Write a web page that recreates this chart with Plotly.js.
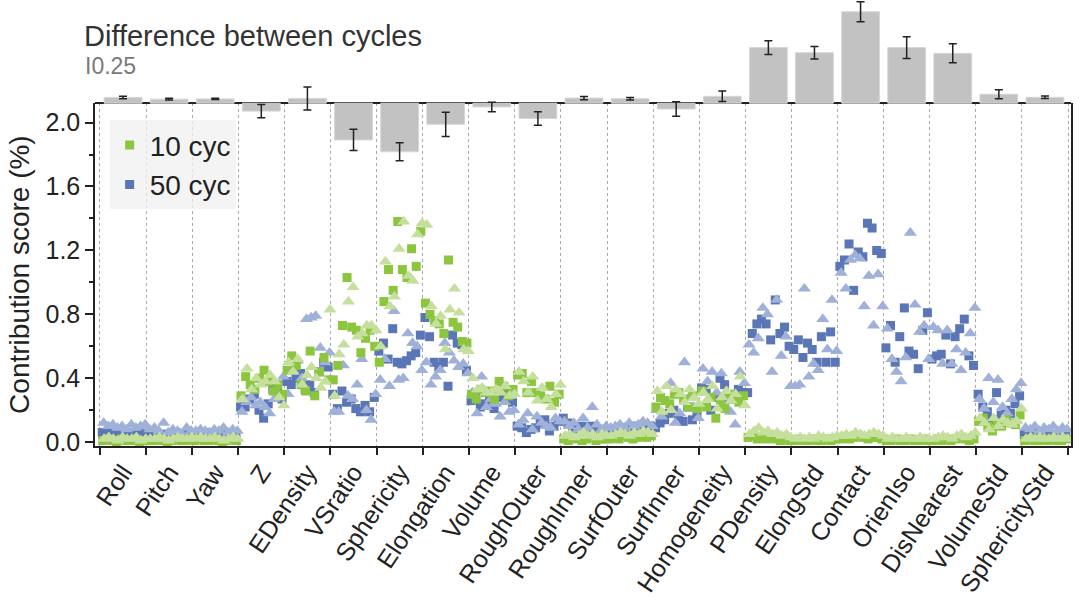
<!DOCTYPE html>
<html>
<head>
<meta charset="utf-8">
<script src="https://cdn.plot.ly/plotly-3.0.1.min.js"></script>
<style>
  html, body { margin: 0; padding: 0; background: #ffffff; }
  #scorePlot { width: 1080px; height: 600px; }
</style>
</head>
<body>
<div id="scorePlot"></div>
<script>
// feature names (x categories)
let features = [
  "Roll", "Pitch", "Yaw", "Z", "EDensity", "VSratio", "Sphericity",
  "Elongation", "Volume", "RoughOuter", "RoughInner", "SurfOuter",
  "SurfInner", "Homogeneity", "PDensity", "ElongStd", "Contact",
  "OrienIso", "DisNearest", "VolumeStd", "SphericityStd",
];

// top bars: difference between cycles (50 - 10) and its error
let diffMean = [
  0.09, 0.063, 0.067, -0.124, 0.075, -0.575, -0.76, -0.33, -0.059, -0.24,
  0.08, 0.07, -0.091, 0.108, 0.87, 0.79, 1.43, 0.87, 0.78, 0.14, 0.092,
];
let diffErr = [
  0.02, 0.015, 0.01, 0.105, 0.18, 0.167, 0.14, 0.19, 0.075, 0.105,
  0.025, 0.02, 0.113, 0.083, 0.108, 0.097, 0.156, 0.17, 0.148, 0.072, 0.02,
];

// contribution score (%) per feature, samples left to right
let score10sq = [
  [0.01, 0.02, 0.01, 0.00, 0.02, 0.01, 0.01, 0.02, 0.00, 0.01],
  [0.01, 0.01, 0.02, 0.01, 0.00, 0.01, 0.02, 0.01, 0.01, 0.02],
  [0.01, 0.02, 0.01, 0.01, 0.02, 0.01, 0.00, 0.01, 0.02, 0.01],
  [0.29, 0.41, 0.36, 0.33, 0.40, 0.45, 0.38, 0.32, 0.36, 0.30],
  [0.45, 0.54, 0.48, 0.36, 0.32, 0.57, 0.29, 0.44, 0.53, 0.39],
  [0.39, 0.48, 0.73, 1.03, 0.72, 0.70, 0.56, 0.65, 0.70, 0.60],
  [0.50, 0.88, 1.08, 0.95, 1.38, 1.08, 1.03, 1.21, 1.10, 1.32],
  [0.87, 0.80, 0.76, 0.74, 0.68, 1.14, 0.75, 0.72, 0.63, 0.62],
  [0.30, 0.27, 0.33, 0.31, 0.32, 0.27, 0.38, 0.35, 0.29, 0.33],
  [0.42, 0.43, 0.31, 0.38, 0.31, 0.29, 0.27, 0.35, 0.25, 0.30],
  [0.02, 0.01, 0.03, 0.02, 0.01, 0.02, 0.03, 0.01, 0.02, 0.02],
  [0.02, 0.03, 0.02, 0.04, 0.03, 0.02, 0.03, 0.04, 0.03, 0.04],
  [0.22, 0.28, 0.26, 0.24, 0.30, 0.31, 0.27, 0.22, 0.29, 0.21],
  [0.32, 0.22, 0.28, 0.15, 0.24, 0.21, 0.30, 0.27, 0.25, 0.29],
  [0.03, 0.04, 0.02, 0.03, 0.02, 0.03, 0.02, 0.01, 0.02, 0.01],
  [0.01, 0.02, 0.01, 0.01, 0.02, 0.01, 0.01, 0.02, 0.01, 0.02],
  [0.02, 0.03, 0.02, 0.03, 0.04, 0.03, 0.02, 0.03, 0.03, 0.02],
  [0.01, 0.01, 0.02, 0.01, 0.01, 0.02, 0.01, 0.01, 0.02, 0.01],
  [0.01, 0.02, 0.01, 0.02, 0.01, 0.02, 0.03, 0.02, 0.01, 0.02],
  [0.13, 0.15, 0.10, 0.07, 0.12, 0.10, 0.14, 0.12, 0.11, 0.17],
  [0.01, 0.02, 0.01, 0.01, 0.02, 0.01, 0.02, 0.01, 0.01, 0.02],
];
let score10tri = [
  [0.02, 0.03, 0.02, 0.01, 0.03, 0.02, 0.02, 0.03, 0.01, 0.02],
  [0.02, 0.02, 0.03, 0.02, 0.01, 0.02, 0.03, 0.02, 0.02, 0.03],
  [0.02, 0.03, 0.02, 0.02, 0.03, 0.02, 0.01, 0.02, 0.03, 0.02],
  [0.27, 0.46, 0.33, 0.40, 0.36, 0.38, 0.42, 0.38, 0.28, 0.23],
  [0.50, 0.44, 0.52, 0.36, 0.42, 0.47, 0.40, 0.34, 0.38, 0.83],
  [0.29, 0.55, 0.61, 0.88, 0.97, 0.66, 0.68, 0.73, 0.73, 0.70],
  [0.60, 1.13, 0.85, 0.91, 1.21, 1.38, 1.04, 1.01, 1.30, 1.37],
  [1.36, 0.85, 0.74, 0.79, 0.58, 0.83, 0.96, 0.81, 0.58, 0.57],
  [0.40, 0.33, 0.34, 0.31, 0.31, 0.33, 0.31, 0.35, 0.29, 0.30],
  [0.44, 0.38, 0.31, 0.41, 0.26, 0.34, 0.27, 0.22, 0.30, 0.36],
  [0.04, 0.05, 0.03, 0.04, 0.06, 0.04, 0.05, 0.03, 0.05, 0.04],
  [0.04, 0.05, 0.06, 0.05, 0.04, 0.06, 0.05, 0.07, 0.06, 0.05],
  [0.32, 0.19, 0.35, 0.20, 0.33, 0.30, 0.25, 0.33, 0.28, 0.24],
  [0.31, 0.27, 0.35, 0.21, 0.28, 0.32, 0.26, 0.30, 0.41, 0.23],
  [0.05, 0.07, 0.09, 0.06, 0.07, 0.05, 0.06, 0.04, 0.05, 0.03],
  [0.02, 0.03, 0.02, 0.03, 0.02, 0.04, 0.03, 0.02, 0.03, 0.04],
  [0.04, 0.05, 0.04, 0.06, 0.05, 0.04, 0.05, 0.06, 0.05, 0.04],
  [0.02, 0.03, 0.02, 0.02, 0.03, 0.02, 0.02, 0.03, 0.02, 0.02],
  [0.02, 0.03, 0.04, 0.03, 0.02, 0.04, 0.05, 0.03, 0.04, 0.06],
  [0.15, 0.12, 0.08, 0.15, 0.10, 0.14, 0.12, 0.11, 0.13, 0.21],
  [0.02, 0.03, 0.02, 0.03, 0.02, 0.02, 0.03, 0.02, 0.03, 0.02],
];
let score50sq = [
  [0.06, 0.05, 0.07, 0.04, 0.06, 0.05, 0.06, 0.04, 0.07, 0.05],
  [0.05, 0.06, 0.04, 0.05, 0.03, 0.05, 0.06, 0.04, 0.05, 0.04],
  [0.04, 0.05, 0.04, 0.06, 0.05, 0.04, 0.05, 0.06, 0.04, 0.05],
  [0.22, 0.22, 0.27, 0.30, 0.20, 0.15, 0.24, 0.33, 0.35, 0.27],
  [0.38, 0.36, 0.40, 0.43, 0.33, 0.36, 0.31, 0.44, 0.50, 0.47],
  [0.30, 0.21, 0.32, 0.25, 0.27, 0.21, 0.19, 0.23, 0.19, 0.28],
  [0.57, 0.62, 0.52, 0.71, 0.50, 0.49, 0.51, 0.54, 0.56, 0.67],
  [0.78, 0.66, 0.50, 0.47, 0.50, 0.35, 0.67, 0.62, 0.61, 0.45],
  [0.26, 0.29, 0.22, 0.24, 0.27, 0.21, 0.31, 0.28, 0.32, 0.25],
  [0.10, 0.09, 0.06, 0.08, 0.09, 0.12, 0.14, 0.07, 0.10, 0.13],
  [0.15, 0.12, 0.09, 0.08, 0.10, 0.07, 0.10, 0.09, 0.06, 0.08],
  [0.07, 0.08, 0.06, 0.09, 0.07, 0.08, 0.10, 0.09, 0.08, 0.10],
  [0.09, 0.12, 0.14, 0.18, 0.20, 0.16, 0.13, 0.22, 0.14, 0.17],
  [0.34, 0.33, 0.20, 0.28, 0.40, 0.36, 0.27, 0.29, 0.33, 0.31],
  [0.31, 0.68, 0.74, 0.77, 0.74, 0.64, 0.89, 0.68, 0.72, 0.60],
  [0.58, 0.64, 0.53, 0.62, 0.58, 0.50, 0.66, 0.50, 0.69, 0.50],
  [1.10, 1.14, 1.24, 0.95, 1.19, 1.16, 1.37, 1.34, 1.20, 1.18],
  [0.59, 0.73, 0.50, 0.66, 0.84, 0.57, 0.55, 0.46, 0.70, 0.81],
  [0.52, 0.54, 0.55, 0.67, 0.49, 0.66, 0.71, 0.77, 0.54, 0.48],
  [0.30, 0.22, 0.19, 0.14, 0.31, 0.17, 0.20, 0.18, 0.24, 0.29],
  [0.05, 0.04, 0.06, 0.05, 0.04, 0.06, 0.05, 0.04, 0.06, 0.05],
];
let score50tri = [
  [0.12, 0.10, 0.11, 0.09, 0.10, 0.08, 0.11, 0.09, 0.10, 0.11],
  [0.08, 0.09, 0.07, 0.12, 0.06, 0.08, 0.07, 0.05, 0.09, 0.07],
  [0.07, 0.08, 0.07, 0.06, 0.08, 0.07, 0.09, 0.06, 0.08, 0.07],
  [0.19, 0.25, 0.28, 0.23, 0.25, 0.22, 0.18, 0.27, 0.30, 0.41],
  [0.30, 0.45, 0.51, 0.40, 0.77, 0.78, 0.79, 0.59, 0.50, 0.56],
  [0.19, 0.19, 0.48, 0.29, 0.27, 0.36, 0.52, 0.20, 0.14, 0.30],
  [0.39, 0.52, 0.35, 0.82, 0.39, 0.40, 0.68, 0.62, 0.60, 0.45],
  [0.50, 0.36, 0.41, 0.45, 0.62, 0.56, 0.51, 0.47, 0.49, 0.43],
  [0.31, 0.18, 0.41, 0.22, 0.27, 0.24, 0.16, 0.25, 0.19, 0.20],
  [0.11, 0.14, 0.18, 0.08, 0.16, 0.12, 0.10, 0.09, 0.15, 0.13],
  [0.13, 0.10, 0.12, 0.08, 0.15, 0.09, 0.22, 0.11, 0.08, 0.10],
  [0.09, 0.10, 0.11, 0.09, 0.12, 0.10, 0.11, 0.13, 0.12, 0.10],
  [0.20, 0.16, 0.25, 0.37, 0.12, 0.18, 0.50, 0.28, 0.22, 0.15],
  [0.46, 0.38, 0.44, 0.31, 0.43, 0.29, 0.19, 0.11, 0.44, 0.37],
  [0.61, 0.56, 0.65, 0.84, 0.80, 0.44, 0.89, 0.54, 0.66, 0.35],
  [0.35, 0.36, 0.96, 0.41, 0.49, 0.45, 0.77, 0.58, 0.89, 0.57],
  [1.06, 0.96, 1.14, 1.17, 1.15, 0.85, 1.04, 0.73, 1.05, 0.85],
  [0.71, 0.52, 0.44, 0.38, 0.53, 1.31, 0.86, 0.69, 0.73, 0.52],
  [0.72, 0.70, 0.49, 0.70, 0.49, 0.58, 0.45, 0.56, 0.68, 0.84],
  [0.27, 0.21, 0.40, 0.25, 0.39, 0.22, 0.18, 0.27, 0.33, 0.37],
  [0.09, 0.08, 0.10, 0.07, 0.09, 0.08, 0.10, 0.07, 0.09, 0.08],
];

let colors = {
  green: "#8cc63f",
  greenLight: "#c5df9c",
  blue: "#5b76b6",
  blueLight: "#9fb1d8",
  bar: "#c2c2c2",
  axis: "#222222",
};

// spread the samples of one feature across its category slot
var flatten = function (series, shift) {
  let xs = [];
  let ys = [];
  series.forEach(function (vals, i) {
    vals.forEach(function (v, j) {
      xs.push(i + (j + 0.5 + shift) / vals.length);
      ys.push(v);
    });
  });
  return { x: xs, y: ys };
};

var cb_scorePlot = function () {
  let centers = features.map(function (f, i) { return i + 0.5; });
  let bounds = features.map(function (f, i) { return i; }).concat([features.length]);

  let p50sq = flatten(score50sq, 0);
  let p50tri = flatten(score50tri, 0.3);
  let p10sq = flatten(score10sq, 0.1);
  let p10tri = flatten(score10tri, 0.4);

  let trace1 = {
    x: p50sq.x, y: p50sq.y,
    type: "scatter", mode: "markers",
    name: "50 cyc", legendrank: 2,
    marker: { symbol: "square", size: 9, color: colors.blue },
  };
  let trace2 = {
    x: p50tri.x, y: p50tri.y,
    type: "scatter", mode: "markers",
    name: "50 cyc tri", showlegend: false,
    marker: { symbol: "triangle-up", size: 11.5, color: colors.blueLight },
  };
  let trace3 = {
    x: p10sq.x, y: p10sq.y,
    type: "scatter", mode: "markers",
    name: "10 cyc", legendrank: 1,
    marker: { symbol: "square", size: 9, color: colors.green },
  };
  let trace4 = {
    x: p10tri.x, y: p10tri.y,
    type: "scatter", mode: "markers",
    name: "10 cyc tri", showlegend: false,
    marker: { symbol: "triangle-up", size: 11.5, color: colors.greenLight },
  };
  let trace5 = {
    x: centers, y: diffMean,
    xaxis: "x2", yaxis: "y2",
    type: "bar", width: 0.82,
    showlegend: false,
    marker: { color: colors.bar, line: { color: "#d6d6d6", width: 1 } },
    error_y: { type: "data", array: diffErr, color: colors.axis, thickness: 1.5, width: 4 },
  };

  let data = [trace1, trace2, trace3, trace4, trace5];

  let xRange = [-0.108, 21.065];

  let layout = {
    width: 1080,
    height: 600,
    margin: { l: 95, r: 9, t: 0, b: 153.5, pad: 0 },
    paper_bgcolor: "#ffffff",
    plot_bgcolor: "rgba(0,0,0,0)",
    font: { family: "Arial, Liberation Sans, sans-serif", color: colors.axis },
    title: {
      text: "Difference between cycles",
      font: { size: 29, color: "#333333" },
      xref: "container", yref: "container",
      x: 84 / 1080, xanchor: "left",
      y: 1 - 36 / 600, yanchor: "middle",
    },
    // Legende
    showlegend: true,
    legend: {
      x: 0.015, y: 0.73, xanchor: "left", yanchor: "top",
      bgcolor: "rgba(240,240,240,0.75)",
      font: { size: 28, color: colors.axis },
      tracegroupgap: 0,
      itemwidth: 30,
    },
    xaxis: {
      range: xRange,
      domain: [0, 1],
      anchor: "y",
      tickmode: "array",
      tickvals: centers,
      ticktext: features,
      tickangle: -56,
      ticks: "",
      tickfont: { size: 25, color: colors.axis },
      showgrid: false,
      zeroline: false,
      showline: true,
      linecolor: colors.axis,
      linewidth: 1.5,
      minor: {
        tickmode: "array",
        tickvals: bounds,
        ticks: "outside",
        ticklen: 7,
        tickwidth: 1.5,
        tickcolor: colors.axis,
        showgrid: true,
        gridcolor: "#a8a8a8",
        griddash: "3px,3px",
        gridwidth: 1,
      },
    },
    yaxis: {
      domain: [0, 0.7686],
      range: [-0.024, 2.121],
      tick0: 0,
      dtick: 0.4,
      tickformat: ".1f",
      ticks: "outside",
      ticklen: 8,
      tickwidth: 1.5,
      tickcolor: colors.axis,
      tickfont: { size: 25, color: colors.axis },
      showgrid: false,
      zeroline: false,
      showline: true,
      mirror: true,
      linecolor: colors.axis,
      linewidth: 1.5,
      minor: { dtick: 0.2, ticks: "outside", ticklen: 4, tickwidth: 1.5, tickcolor: colors.axis },
      title: { text: "Contribution score (%)", font: { size: 28, color: colors.axis }, standoff: 8 },
    },
    xaxis2: {
      range: xRange,
      domain: [0, 1],
      anchor: "y2",
      showticklabels: false,
      ticks: "",
      showgrid: false,
      zeroline: false,
      showline: false,
    },
    yaxis2: {
      domain: [0, 1],
      range: [-5.3625, 1.614],
      anchor: "x2",
      showticklabels: false,
      ticks: "",
      showgrid: false,
      showline: false,
      zeroline: true,
      zerolinecolor: colors.axis,
      zerolinewidth: 1.5,
    },
    annotations: [
      {
        text: "I0.25",
        xref: "paper", yref: "paper",
        x: -0.012, xanchor: "left",
        y: 1 - 66 / 446.5, yanchor: "middle",
        showarrow: false,
        font: { size: 23, color: "#7a7a7a" },
      },
    ],
  };
  // end layout

  let config = { responsive: false, displayModeBar: false, displaylogo: false };

  Plotly.newPlot("scorePlot", data, layout, config);
};

if (document.readyState === "complete" || document.readyState !== "loading") {
  cb_scorePlot();
} else {
  document.addEventListener("DOMContentLoaded", cb_scorePlot);
}
</script>
</body>
</html>
